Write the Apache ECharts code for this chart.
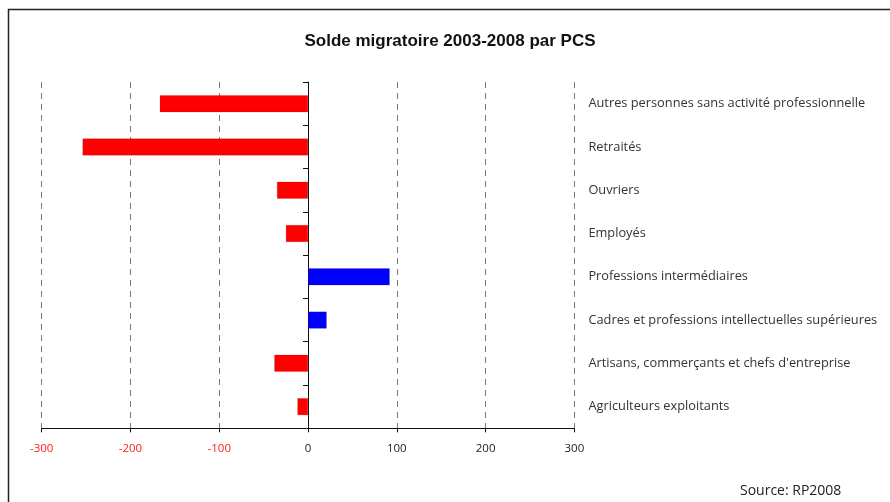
<!DOCTYPE html>
<html><head><meta charset="utf-8">
<script src="https://cdn.jsdelivr.net/npm/echarts@6/dist/echarts.min.js"></script>
<style>html,body{margin:0;padding:0;background:#fff}#c{width:890px;height:502px}</style>
</head><body><div id="c"></div>
<script>
const categories = [
  "Autres personnes sans activité professionnelle",
  "Retraités",
  "Ouvriers",
  "Employés",
  "Professions intermédiaires",
  "Cadres et professions intellectuelles supérieures",
  "Artisans, commerçants et chefs d'entreprise",
  "Agriculteurs exploitants"
];
const values = [-167, -254, -35, -25, 92, 21, -38, -12];
const xTicks = [-300, -200, -100, 0, 100, 200, 300];
const titleText = "Solde migratoire 2003-2008 par PCS";
const sourceText = "Source: RP2008";

const chart = echarts.init(document.getElementById('c'), null, {renderer: 'canvas'});
chart.setOption({
  animation: false,
  backgroundColor: '#fff',
  title: {
    text: titleText, left: 445, top: 28, textAlign: 'center',
    textStyle: {fontFamily: 'Liberation Sans', fontWeight: 'bold', fontSize: 17, color: '#111'}
  },
  graphic: [
    {type: 'polyline', shape: {points: [[8.5, 502], [8.5, 9.5], [890, 9.5]]},
     style: {stroke: '#222', lineWidth: 1.5, fill: null}, silent: true},
    {type: 'text', left: 740, top: 484,
     style: {text: sourceText, font: '14px "Open Sans"', fill: '#222'}}
  ],
  grid: {left: 41.7, right: 315.6, top: 82, bottom: 73.7, containLabel: false},
  xAxis: {
    type: 'value', min: xTicks[0], max: xTicks[xTicks.length - 1], interval: 100,
    axisLine: {show: true, onZero: false, lineStyle: {color: '#111', width: 1}},
    axisTick: {show: true, length: 4, lineStyle: {color: '#111'}},
    splitLine: {show: true, lineStyle: {type: [6, 5], color: '#777', width: 1}},
    axisLabel: {
      margin: 14, fontSize: 11.5, fontFamily: 'Open Sans',
      color: function (v) { return Number(v) < 0 ? '#ff2020' : '#222'; }
    }
  },
  yAxis: [
    {
      type: 'category', data: categories, inverse: true,
      axisLine: {show: true, onZero: true, lineStyle: {color: '#111', width: 1}},
      axisTick: {show: true, length: 5, lineStyle: {color: '#111'}},
      axisLabel: {show: false}, splitLine: {show: false}
    },
    {
      type: 'category', data: categories, inverse: true, position: 'right',
      axisLine: {show: false, onZero: false}, axisTick: {show: false},
      axisLabel: {margin: 14, fontSize: 12.8, fontFamily: 'Open Sans', color: '#333',
                  lineHeight: 16, padding: [6, 0, 0, 0]},
      splitLine: {show: false}
    }
  ],
  series: [{
    type: 'bar', yAxisIndex: 0, data: values, barWidth: 17,
    itemStyle: {
      color: function (p) { return p.value < 0 ? '#ff0000' : '#0000ff'; },
      borderColor: 'rgba(120,0,0,0.35)', borderWidth: 0.5
    }
  }]
});
</script></body></html>
